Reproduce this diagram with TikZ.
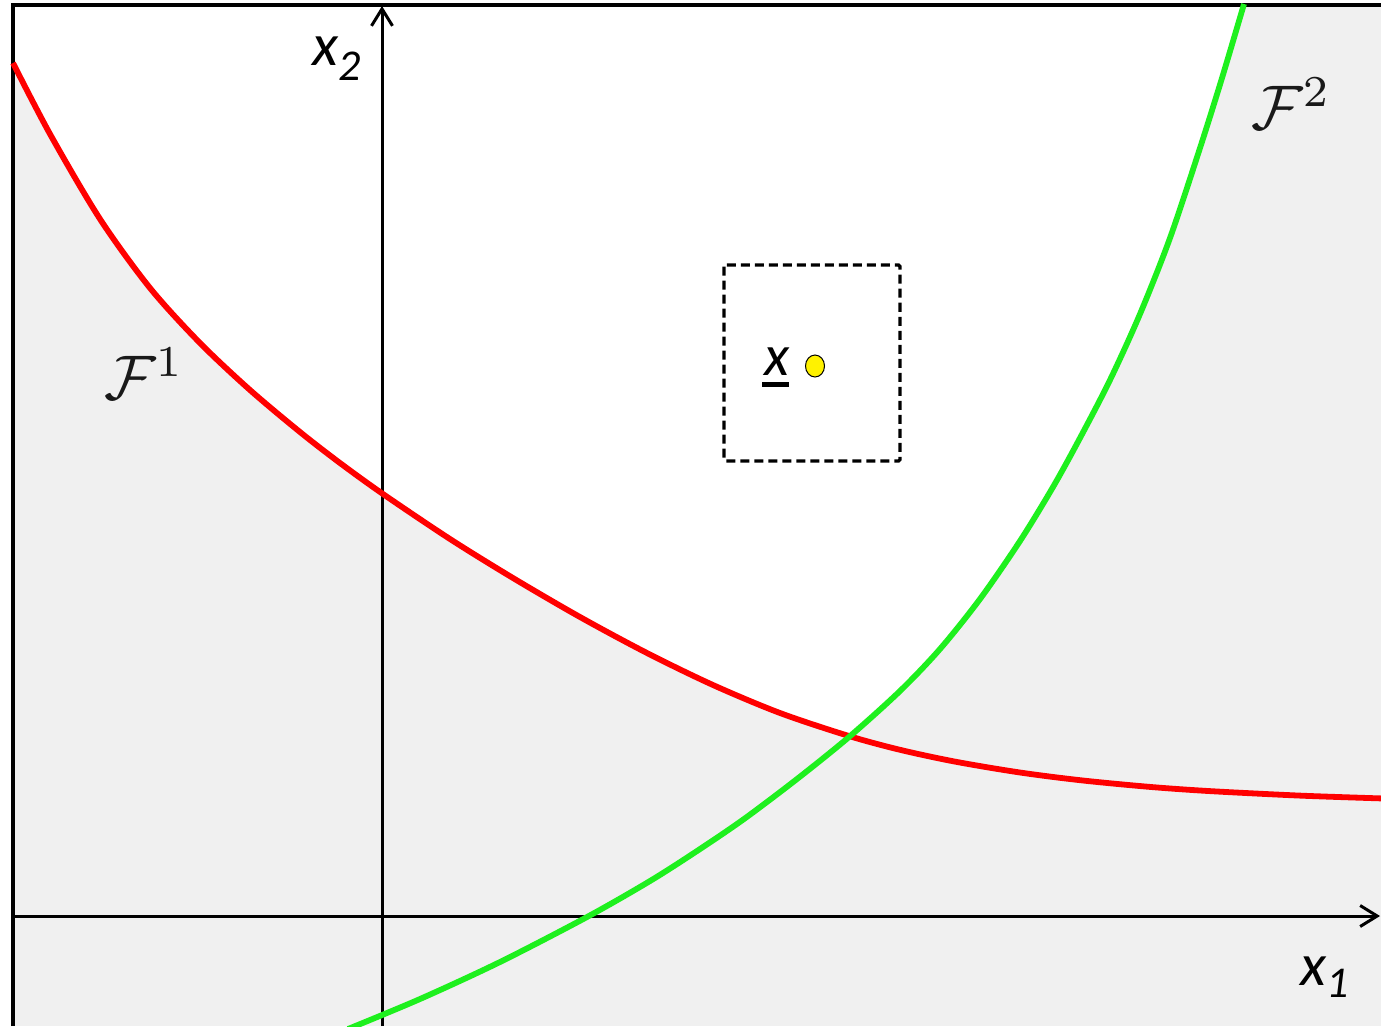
\documentclass[tikz,border=0pt]{standalone}
\usepackage{fontspec}
\newfontfamily\calib{Carlito}
\usetikzlibrary{arrows.meta,shapes.geometric}
\definecolor{bggray}{HTML}{F0F0F0}
\definecolor{fred}{HTML}{FF0000}
\definecolor{fgreen}{HTML}{1EF01E}
\begin{document}
\begin{tikzpicture}[x=1pt,y=-1pt,
  axisline/.style={line width=3pt,-{Straight Barb[length=17pt,width=21pt,line width=3pt]}},
  frameline/.style={line width=4pt},
  curvered/.style={line width=5.8pt,draw=fred},
  curvegreen/.style={line width=5.8pt,draw=fgreen},
  dashbox/.style={line width=3.2pt,dash pattern=on 9pt off 5pt,rounded corners=1.5pt},
  axlbl/.style={inner sep=0pt,anchor=base west,font=\calib\itshape},
  flbl/.style={inner sep=0pt,anchor=base west,text=black!90,scale=6.3}]
\useasboundingbox (0,0) rectangle (1381,1026);
\def\redcurve{plot[smooth] coordinates {(13,63) (50,134) (100,219) (150,288) (200,343) (250,390) (300,432) (340,463) (383,494) (450,539) (513,578) (580,617) (647,653) (713,685) (780,713) (849,736) (900,749.8) (955,761.6) (1020,772.5) (1082,780.4) (1150,786.9) (1210,791.1) (1300,795.6) (1381,798.4)}}
\def\greencurve{plot[smooth] coordinates {(348,1029) (420,999) (500,962) (587,917) (650,881) (697,851) (744,819) (797,779) (849,737) (900,691) (940,649) (980,599) (1020,541) (1053,487) (1080,438) (1110,380) (1140,314) (1170,238) (1200,148) (1222,78) (1244,4)}}
% background
\fill[bggray] (13,5) rectangle (1381,1026);
\begin{scope}
  \clip \redcurve -- (1381,0) -- (13,0) -- cycle;
  \clip \greencurve -- (13,0) -- (13,1026) -- cycle;
  \fill[white] (13,5) rectangle (1381,1026);
\end{scope}
% axes
\coordinate (x2b) at (382,1026);
\coordinate (x2t) at (382,6);
\coordinate (x1l) at (13,916);
\coordinate (x1r) at (1380,916);
\draw[axisline] (x2b) -- (x2t);
\draw[axisline] (x1l) -- (x1r);
% frame
\coordinate (fbl) at (13,1026);
\coordinate (ftl) at (13,5);
\coordinate (ftr) at (1381,5);
\draw[frameline] (fbl) -- (ftl) -- (ftr);
% curves
\draw[curvered] \redcurve;
\draw[curvegreen] \greencurve;
% dashed box and point
\coordinate (boxa) at (724,265);
\coordinate (boxb) at (900,461);
\draw[dashbox] (boxa) rectangle (boxb);
\node[draw=black,line width=1pt,fill=yellow,ellipse,minimum width=19pt,minimum height=22pt,inner sep=0pt] (pt) at (815,366) {};
\node[axlbl] (xlab) at (764,375) {\fontsize{58}{58}\selectfont x};
\coordinate (ula) at (762,384.5);
\coordinate (ulb) at (789,384.5);
\draw[line width=5pt] (ula) -- (ulb);
% labels
\node[axlbl] (x2lab) at (312,65) {\fontsize{60}{60}\selectfont x\raisebox{-15pt}{\fontsize{44}{44}\selectfont 2}};
\node[axlbl] (x1lab) at (1300,985) {\fontsize{60}{60}\selectfont x\raisebox{-12pt}{\fontsize{44}{44}\selectfont 1}};
\node[flbl] (f1lab) at (103,399) {$\mathcal{F}^1$};
\node[flbl] (f2lab) at (1250,129) {$\mathcal{F}^2$};
\end{tikzpicture}
\end{document}
